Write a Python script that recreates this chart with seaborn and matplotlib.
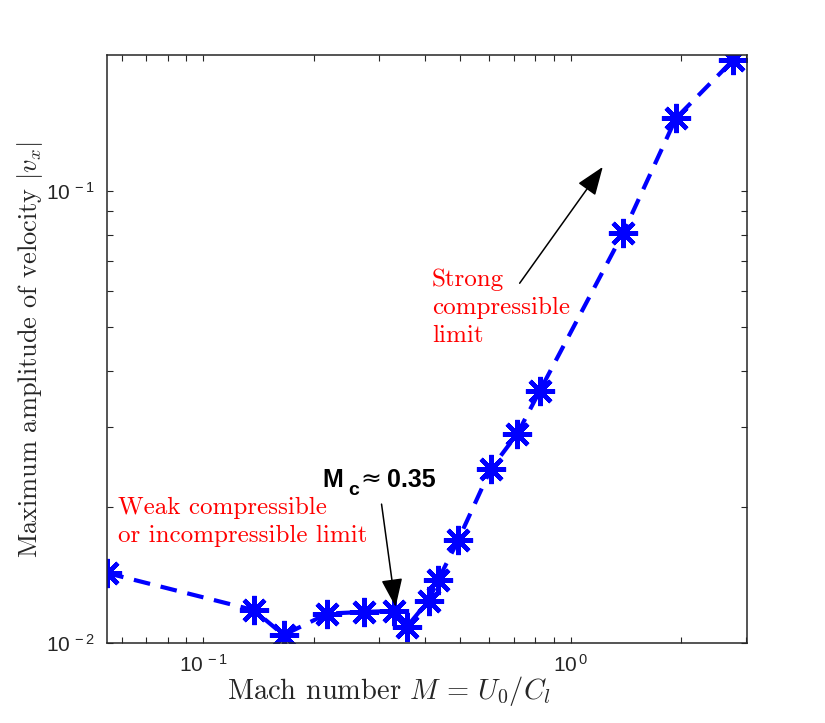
import numpy as np
import matplotlib
matplotlib.use("Agg")
import matplotlib.pyplot as plt
import seaborn as sns

# Mach number M = U0/Cl and max amplitude |v_x|
mach = [0.0548, 0.1372, 0.1655, 0.2176, 0.2738, 0.3295, 0.3575, 0.4103,
        0.4355, 0.4940, 0.6050, 0.7155, 0.8240, 1.388, 1.934, 2.766]
vx_amp = [0.01426, 0.01181, 0.01040, 0.01160, 0.01170, 0.01176, 0.01083, 0.01240,
          0.01376, 0.01687, 0.02420, 0.02900, 0.03610, 0.0806, 0.1448, 0.1946]

x_limits = (0.0548, 3.01)
y_limits = (0.01, 0.1994)

sns.set_style("ticks")
plt.rcParams['font.family'] = ['Liberation Sans', 'DejaVu Sans']
plt.rcParams['mathtext.fontset'] = 'cm'
plt.rcParams['axes.unicode_minus'] = False

fig = plt.figure(figsize=(8.25, 7.23), dpi=100)
ax = fig.add_axes([0.13, 0.111, 0.775, 0.8125])

sns.lineplot(x=mach, y=vx_amp, ax=ax, color='blue', linewidth=3,
             linestyle='--', marker=(8, 2, 0), markersize=21,
             markeredgewidth=3.2, markeredgecolor='blue', sort=False)
ax.lines[0].set_dashes((4, 2.6))

ax.set_xscale('log')
ax.set_yscale('log')
ax.set_xlim(*x_limits)
ax.set_ylim(*y_limits)

for side in ['top', 'right', 'left', 'bottom']:
    ax.spines[side].set_visible(True)
    ax.spines[side].set_color('#262626')
    ax.spines[side].set_linewidth(1.1)


def pow10(v, pos):
    return r'$\mathdefault{10^{\,%d}}$' % round(np.log10(v))


ax.xaxis.set_major_formatter(matplotlib.ticker.FuncFormatter(pow10))
ax.yaxis.set_major_formatter(matplotlib.ticker.FuncFormatter(pow10))
ax.xaxis.set_minor_formatter(matplotlib.ticker.NullFormatter())
ax.yaxis.set_minor_formatter(matplotlib.ticker.NullFormatter())
ax.tick_params(which='both', direction='in', top=True, right=True,
               length=4, width=0.8, color='#262626', labelsize=15,
               labelcolor='#262626')
ax.tick_params(axis='x', pad=8)
ax.tick_params(axis='y', pad=9)

ax.set_xlabel(r'Mach number $M\,=\,U_0/C_l$', fontfamily='cmr10', fontsize=20.5,
              color='#262626')
ax.xaxis.set_label_coords(0.441, -0.053)
ax.set_ylabel(r'Maximum amplitude of velocity $|v_x|$', fontfamily='cmr10',
              fontsize=19, color='#262626')
ax.yaxis.set_label_coords(-0.097, 0.50)

# annotations
ax.text(0.017, 0.205, 'Weak compressible\nor incompressible limit',
        transform=ax.transAxes, color='red', fontfamily='cmr10', fontsize=18,
        linespacing=1.35, va='center', ha='left')
ax.text(0.508, 0.570, 'Strong\ncompressible\nlimit',
        transform=ax.transAxes, color='red', fontfamily='cmr10', fontsize=18,
        linespacing=1.35, va='center', ha='left')

ax.annotate('', xy=(0.451, 0.061), xytext=(0.429, 0.236),
            xycoords='axes fraction', textcoords='axes fraction',
            arrowprops=dict(arrowstyle='-|>,head_length=0.8,head_width=0.3',
                            color='black', lw=1.1,
                            mutation_scale=22, shrinkA=0, shrinkB=0))
ax.annotate('', xy=(0.775, 0.810), xytext=(0.645, 0.612),
            xycoords='axes fraction', textcoords='axes fraction',
            arrowprops=dict(arrowstyle='-|>,head_length=0.8,head_width=0.3',
                            color='black', lw=1.1,
                            mutation_scale=22, shrinkA=0, shrinkB=0))

# M_c label pieces
ax.text(0.336, 0.265, 'M', transform=ax.transAxes, fontsize=18, color='black',
        fontweight='bold', va='baseline', ha='left')
ax.text(0.377, 0.252, 'c', transform=ax.transAxes, fontsize=14, color='black',
        fontweight='bold', va='baseline', ha='left')
ax.text(0.396, 0.265, '\u2248', transform=ax.transAxes, fontsize=18,
        color='black', fontfamily='DejaVu Sans', va='baseline', ha='left')
ax.text(0.437, 0.265, '0.35', transform=ax.transAxes, fontsize=18, color='black',
        fontweight='bold', va='baseline', ha='left')

fig.savefig('out.png', dpi=100, facecolor='white')
